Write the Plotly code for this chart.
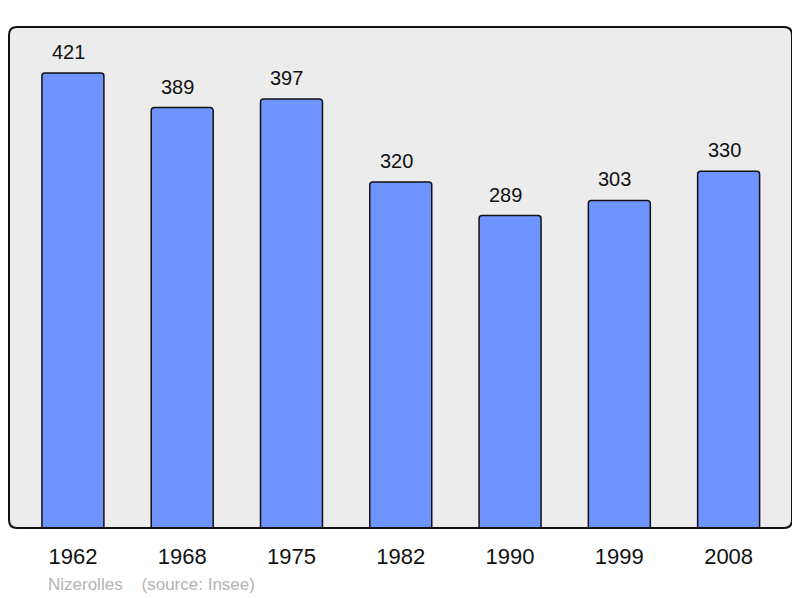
import plotly.graph_objects as go

years = ["1962", "1968", "1975", "1982", "1990", "1999", "2008"]
population = [421, 389, 397, 320, 289, 303, 330]
town = "Nizerolles"
source = "(source: Insee)"

W, H = 800, 598
off = 8  # browser body margin
ml, mr, mt, mb = 9 - off, 8 + off, 27 - off, 70 + off
pw, ph = W - ml - mr, H - mt - mb

fig = go.Figure()
fig.add_trace(go.Bar(
    x=list(range(len(years))), y=population, width=0.567,
    marker=dict(color="#7094ff", line=dict(color="#111111", width=1.5), cornerradius=3),
    hoverinfo="skip",
))
for i, v in enumerate(population):
    fig.add_annotation(x=i, y=v, text=str(v), showarrow=False, yanchor="bottom",
                       yshift=8, xshift=-4.5,
                       font=dict(size=20, color="#111111", family="Liberation Sans, Arial"))

r = 8
rx, ry = r / pw, r / ph
path = (f"M {rx},0 L {1-rx},0 Q 1,0 1,{ry} L 1,{1-ry} Q 1,1 {1-rx},1 L {rx},1 Q 0,1 0,{1-ry} "
        f"L 0,{ry} Q 0,0 {rx},0 Z")
fig.add_shape(type="path", path=path, xref="paper", yref="paper", fillcolor="#ececec",
              line=dict(width=0), layer="below")
fig.add_shape(type="path", path=path, xref="paper", yref="paper", fillcolor="rgba(0,0,0,0)",
              line=dict(color="#111111", width=2), layer="above")

fig.add_annotation(xref="paper", yref="paper", x=(46 - 9) / pw, y=-(584 - 528) / ph,
                   text=f"{town}    {source}", showarrow=False, xanchor="left", yanchor="middle",
                   font=dict(size=17, color="#b3b3b3", family="Liberation Sans, Arial"))

fig.update_layout(
    width=W, height=H, margin=dict(l=ml, r=mr, t=mt, b=mb),
    paper_bgcolor="white", plot_bgcolor="rgba(0,0,0,0)", showlegend=False,
    xaxis=dict(range=[-0.585, 6.58], tickmode="array", tickvals=list(range(len(years))),
               ticktext=years, showgrid=False, zeroline=False, showline=False,
               tickfont=dict(size=22, color="#111111", family="Liberation Sans, Arial"),
               ticks="", ticklabelstandoff=13, fixedrange=True),
    yaxis=dict(range=[0, 463.5], showgrid=False, zeroline=False, showline=False,
               showticklabels=False, fixedrange=True),
)
fig.write_html("out.html")
